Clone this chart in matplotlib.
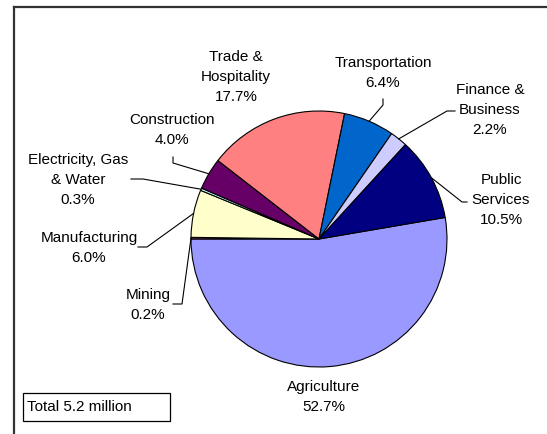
import matplotlib
matplotlib.use("Agg")
import matplotlib.pyplot as plt
import numpy as np
from matplotlib.patches import Rectangle
from matplotlib.lines import Line2D

# ---- data ----
industries = ['Agriculture', 'Mining', 'Manufacturing', 'Electricity, Gas\n& Water',
              'Construction', 'Trade &\nHospitality', 'Transportation',
              'Finance &\nBusiness', 'Public\nServices']
shares = [52.7, 0.2, 6.0, 0.3, 4.0, 17.7, 6.4, 2.2, 10.5]
colors = ['#9999FF', '#993366', '#FFFFCC', '#CCFFFF', '#660066',
          '#FF8080', '#0066CC', '#CCCCFF', '#000080']
total_text = 'Total 5.2 million'

plt.rcParams['font.family'] = ['Liberation Sans', 'DejaVu Sans']

W, H = 547, 434
fig = plt.figure(figsize=(W / 100, H / 100), dpi=100)
fig.patch.set_facecolor('white')

# pie centre / radius in pixels
cx, cy, R = 319, 239, 128
ax = fig.add_axes([0, 0, 1, 1])


def P(px, py):
    return ((px - cx) / R, (cy - py) / R)


wedges, _ = ax.pie(shares, colors=colors, startangle=9.7, counterclock=False,
                   radius=1.0, center=(0, 0),
                   wedgeprops=dict(edgecolor='black', linewidth=0.8))
ax.set_xlim(-cx / R, (W - cx) / R)
ax.set_ylim(-(H - cy) / R, cy / R)
ax.set_aspect('auto')
ax.axis('off')

# label centres (pixels) and leader elbows (pixel polylines, from label side)
label_pos = [(324, 397), (148, 305), (89, 248), (78, 180), (172, 130),
             (236, 77), (383, 73), (490, 110), (501, 200)]
leaders = {
    1: [(173, 304), (182, 304)],
    2: [(138, 247), (147, 247)],
    3: [(131, 179), (143, 179)],
    4: [(173, 157), (173, 163)],
    6: [(383, 99), (383, 105)],
    7: [(455, 111), (447, 111)],
    8: [(467, 202), (462, 202)],
}

for i, (name, val) in enumerate(zip(industries, shares)):
    x, y = P(*label_pos[i])
    ax.text(x, y, f'{name}\n{val:.1f}%', ha='center', va='center',
            fontsize=11, linespacing=1.55, color='black')
    if i in leaders:
        w = wedges[i]
        mid = np.deg2rad((w.theta1 + w.theta2) / 2)
        pts = [P(*p) for p in leaders[i]] + [(np.cos(mid), np.sin(mid))]
        xs, ys = zip(*pts)
        ax.plot(xs, ys, color='black', linewidth=0.8)

# total box
fig.patches.append(Rectangle((23 / W, 1 - 421 / H), (170 - 23) / W, (421 - 393) / H,
                             transform=fig.transFigure, fill=False,
                             edgecolor='black', linewidth=0.9))
fig.text(27 / W, 1 - 407 / H, total_text, ha='left', va='center', fontsize=11)

# outer chart frame (left and top edges visible)
fig.lines.append(Line2D([14 / W, 14 / W], [0, 1 - 7 / H], transform=fig.transFigure,
                        color='#333333', linewidth=1.6))
fig.lines.append(Line2D([14 / W, 1], [1 - 7 / H, 1 - 7 / H], transform=fig.transFigure,
                        color='#333333', linewidth=1.6))

fig.savefig('out.png', dpi=100, facecolor='white')
